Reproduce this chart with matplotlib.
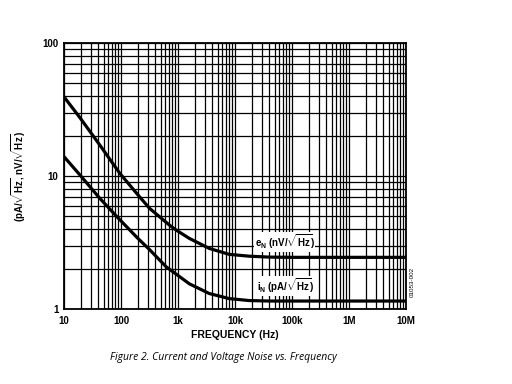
import matplotlib.pyplot as plt
from matplotlib.ticker import LogLocator, FixedLocator, NullFormatter

plt.rcParams['font.family'] = ['Liberation Sans', 'DejaVu Sans']
plt.rcParams['mathtext.fontset'] = 'custom'
plt.rcParams['mathtext.rm'] = 'Liberation Sans:bold'
plt.rcParams['mathtext.bf'] = 'Liberation Sans:bold'

# data
en_freq = [10, 19, 30, 42.5, 95, 212, 317, 473, 708, 926, 1580, 3530,
           7890, 17600, 40000, 1e5, 1e7]
en_vals = [39.4, 27.5, 21.0, 17.1, 10.5, 6.98, 5.72, 4.95, 4.28, 3.93,
           3.4, 2.86, 2.58, 2.5, 2.46, 2.45, 2.45]

in_freq = [10, 19, 42.5, 88.7, 198, 317, 620, 1580, 3530, 7890, 17600,
           40000, 1e7]
in_vals = [14.0, 10.2, 6.8, 4.85, 3.4, 2.8, 2.08, 1.55, 1.31, 1.2, 1.16,
           1.15, 1.15]

x_ticks = [10, 100, 1e3, 1e4, 1e5, 1e6, 1e7]
x_labels = ['10', '100', '1k', '10k', '100k', '1M', '10M']
y_ticks = [1, 10, 100]
y_labels = ['1', '10', '100']

fig = plt.figure(figsize=(5.12, 3.84), dpi=100)
ax = fig.add_axes([0.125, 0.195, 0.668, 0.693])

ax.plot(en_freq, en_vals, color='black', lw=2.3, zorder=3,
        solid_joinstyle='round')
ax.plot(in_freq, in_vals, color='black', lw=2.3, zorder=3,
        solid_joinstyle='round')

ax.set_xscale('log')
ax.set_yscale('log')
ax.set_xlim(10, 1e7)
ax.set_ylim(1, 100)

ax.xaxis.set_major_locator(FixedLocator(x_ticks))
ax.set_xticklabels(x_labels)
ax.yaxis.set_major_locator(FixedLocator(y_ticks))
ax.set_yticklabels(y_labels)
ax.xaxis.set_minor_locator(LogLocator(base=10, subs=range(2, 10), numticks=20))
ax.yaxis.set_minor_locator(LogLocator(base=10, subs=range(2, 10), numticks=20))
ax.xaxis.set_minor_formatter(NullFormatter())
ax.yaxis.set_minor_formatter(NullFormatter())
ax.tick_params(which='both', length=0, labelsize=7)
ax.tick_params(axis='x', pad=5)
ax.tick_params(axis='y', pad=4)
for lab in ax.get_xticklabels() + ax.get_yticklabels():
    lab.set_fontweight('bold')

ax.grid(True, which='both', color='black', lw=0.9)
for sp in ax.spines.values():
    sp.set_linewidth(1.3)

ax.set_xlabel('FREQUENCY (Hz)', fontsize=7.5, fontweight='bold', labelpad=3)
ax.set_ylabel(r'(pA/$\sqrt{\mathrm{Hz}}$, nV/$\sqrt{\mathrm{Hz}}$)', fontsize=7,
              fontweight='bold', labelpad=10)

box = dict(facecolor='white', edgecolor='none', pad=0.5)
ax.text(2.2e4, 3.2, r'e$_{\mathrm{N}}$ (nV/$\sqrt{\mathrm{Hz}}$)', fontsize=7,
        fontweight='bold', ha='left', va='center', bbox=box, zorder=4)
ax.text(2.4e4, 1.5, r'i$_{\mathrm{N}}$ (pA/$\sqrt{\mathrm{Hz}}$)', fontsize=7,
        fontweight='bold', ha='left', va='center', bbox=box, zorder=4)

fig.text(0.806, 0.265, '01053-002', rotation=90, fontsize=4.5, ha='center', va='center')

fig.text(0.215, 0.07, 'Figure 2. Current and Voltage Noise vs. Frequency',
         fontsize=7.5, style='italic', family=['Open Sans', 'DejaVu Sans'],
         ha='left', va='center')

fig.savefig('out.png', dpi=100)
